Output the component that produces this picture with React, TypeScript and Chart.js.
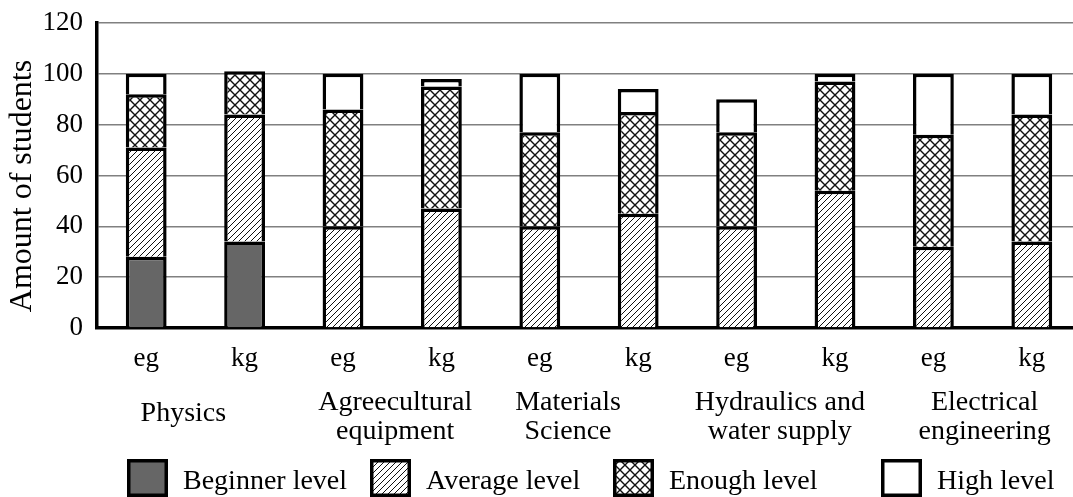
import React, { useEffect, useRef } from "react";
import { Chart, registerables } from "chart.js";

Chart.register(...registerables);

// ---------- data ----------
const categories = ["eg", "kg", "eg", "kg", "eg", "kg", "eg", "kg", "eg", "kg"];
const groupLabels = [
  ["Physics"],
  ["Agreecultural", "equipment"],
  ["Materials", "Science"],
  ["Hydraulics and", "water supply"],
  ["Electrical", "engineering"],
];
const seriesNames = ["Beginner level", "Average level", "Enough level", "High level"];
const beginner = [28, 34, 0, 0, 0, 0, 0, 0, 0, 0];
const average = [43, 50, 40, 47, 40, 45, 40, 54, 32, 34];
const enough = [21, 17, 46, 48, 37, 40, 37, 43, 44, 50];
const high = [8, 0, 14, 3, 23, 9, 13, 3, 24, 16];
const yTicks = [0, 20, 40, 60, 80, 100, 120];
const yTitle = "Amount of students";

// ---------- style ----------
const FONT = "'Liberation Serif', 'Times New Roman', serif";
const W = 1084;
const H = 497;
const groupOffsets = [-12, 3, -21, -6, 2];
const groupStyle = { size: 28, line1: 410, line2: 439, single: 421 };
const legendStyle = { size: 28, boxX: [127, 370, 613, 881], boxY: 459, boxW: 41, boxH: 38, gap: 15, baseline: 489 };
const yTitleStyle = { size: 32, x: 23, y: 186 };

function makeHatch(): CanvasPattern {
  const s = 6;
  const c = document.createElement("canvas");
  c.width = s;
  c.height = s;
  const g = c.getContext("2d")!;
  g.fillStyle = "#fff";
  g.fillRect(0, 0, s, s);
  g.strokeStyle = "#111";
  g.lineWidth = 1;
  g.beginPath();
  g.moveTo(0, s);
  g.lineTo(s, 0);
  g.moveTo(-1, 1);
  g.lineTo(1, -1);
  g.moveTo(s - 1, s + 1);
  g.lineTo(s + 1, s - 1);
  g.stroke();
  return g.createPattern(c, "repeat")!;
}

function makeCross(): CanvasPattern {
  const s = 10;
  const c = document.createElement("canvas");
  c.width = s;
  c.height = s;
  const g = c.getContext("2d")!;
  g.fillStyle = "#fff";
  g.fillRect(0, 0, s, s);
  g.strokeStyle = "#111";
  g.lineWidth = 1.4;
  g.beginPath();
  g.moveTo(0, 0);
  g.lineTo(s, s);
  g.moveTo(0, s);
  g.lineTo(s, 0);
  g.stroke();
  return g.createPattern(c, "repeat")!;
}

export default function App() {
  const ref = useRef<HTMLCanvasElement | null>(null);

  useEffect(() => {
    if (!ref.current) return;
    const hatch = makeHatch();
    const cross = makeCross();
    const fills: (string | CanvasPattern)[] = ["#666666", hatch, cross, "#ffffff"];
    const series = [beginner, average, enough, high];

    const textPlugin = {
      id: "extraText",
      afterDraw(chart: any) {
        const ctx = chart.ctx;
        const x = chart.scales.x;
        ctx.save();
        ctx.fillStyle = "#000";
        // y axis title
        ctx.save();
        ctx.translate(yTitleStyle.x, yTitleStyle.y);
        ctx.rotate(-Math.PI / 2);
        ctx.font = `${yTitleStyle.size}px ${FONT}`;
        ctx.textAlign = "center";
        ctx.textBaseline = "middle";
        ctx.fillText(yTitle, 0, 0);
        ctx.restore();
        // group labels
        ctx.font = `${groupStyle.size}px ${FONT}`;
        ctx.textAlign = "center";
        ctx.textBaseline = "alphabetic";
        groupLabels.forEach((lines, i) => {
          const cx = (x.getPixelForValue(2 * i) + x.getPixelForValue(2 * i + 1)) / 2 + groupOffsets[i];
          if (lines.length === 1) {
            ctx.fillText(lines[0], cx, groupStyle.single);
          } else {
            ctx.fillText(lines[0], cx, groupStyle.line1);
            ctx.fillText(lines[1], cx, groupStyle.line2);
          }
        });
        // legend
        chart.data.datasets.forEach((ds: any, i: number) => {
          const bx = legendStyle.boxX[i];
          ctx.fillStyle = ds.backgroundColor;
          ctx.fillRect(bx, legendStyle.boxY, legendStyle.boxW, legendStyle.boxH);
          ctx.lineWidth = 3.5;
          ctx.strokeStyle = "#000";
          ctx.strokeRect(bx + 1.75, legendStyle.boxY + 1.75, legendStyle.boxW - 3.5, legendStyle.boxH - 3.5);
          ctx.fillStyle = "#000";
          ctx.font = `${legendStyle.size}px ${FONT}`;
          ctx.textAlign = "left";
          ctx.textBaseline = "alphabetic";
          ctx.fillText(ds.label, bx + legendStyle.boxW + legendStyle.gap, legendStyle.baseline);
        });
        ctx.restore();
      },
    };

    const chart = new Chart(ref.current, {
      type: "bar",
      data: {
        labels: categories,
        datasets: series.map((d, i) => ({
          label: seriesNames[i],
          data: d,
          backgroundColor: fills[i] as any,
          borderColor: "#000",
          borderWidth: 3.5,
          categoryPercentage: 1,
          barPercentage: 0.415,
        })),
      },
      options: {
        responsive: false,
        animation: false,
        devicePixelRatio: 1,
        events: [],
        layout: { padding: { top: 23, right: 3, left: 0, bottom: 0 } },
        plugins: { legend: { display: false }, tooltip: { enabled: false }, title: { display: false } },
        scales: {
          x: {
            stacked: true,
            grid: { display: false, drawTicks: false },
            border: { display: true, color: "#000", width: 3.5 },
            ticks: { color: "#000", font: { family: FONT, size: 27 }, padding: 15, maxRotation: 0, autoSkip: false },
            afterFit(scale: any) {
              scale.height = 169;
              scale.paddingLeft = 0;
              scale.paddingRight = 0;
            },
          },
          y: {
            stacked: true,
            min: 0,
            max: 120,
            afterBuildTicks(scale: any) {
              scale.ticks = yTicks.map((v) => ({ value: v }));
            },
            grid: { color: "#808080", lineWidth: 1.5, drawTicks: false },
            border: { display: true, color: "#000", width: 3.5 },
            ticks: { color: "#000", font: { family: FONT, size: 27 }, padding: 14 },
            afterFit(scale: any) {
              scale.width = 97;
              scale.paddingTop = 0;
              scale.paddingBottom = 0;
            },
          },
        },
      },
      plugins: [textPlugin],
    });
    return () => chart.destroy();
  }, []);

  return (
    <div style={{ position: "fixed", left: 0, top: 0, width: 1073, height: H, overflow: "hidden", background: "#fff" }}>
      <canvas ref={ref} width={W} height={H} style={{ width: W, height: H, display: "block" }} />
    </div>
  );
}
